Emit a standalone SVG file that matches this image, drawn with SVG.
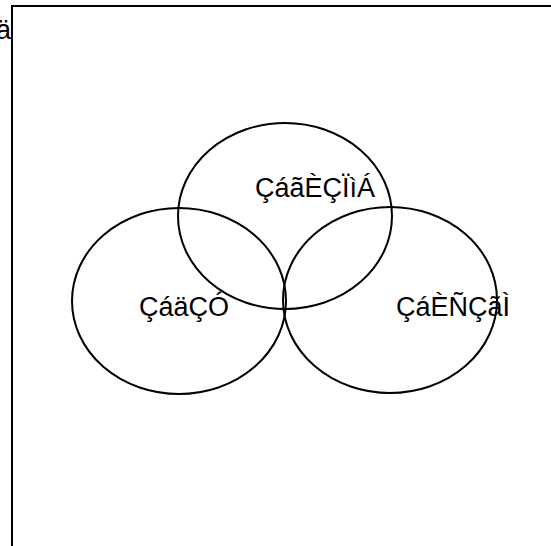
<svg xmlns="http://www.w3.org/2000/svg" width="551" height="546" viewBox="0 0 551 546">
<style>
.t{font-family:"Liberation Sans",Arial,sans-serif;font-size:27px;fill:#000}
.c{fill:none;stroke:#000;stroke-width:2}
</style>
<rect width="551" height="546" fill="#fff"/>
<g id="frame">
<rect x="12" y="6" width="620" height="620" fill="none" stroke="#000" stroke-width="2"/>
<text class="t" x="11" y="39" text-anchor="end">ä</text>
</g>
<g id="top">
<ellipse class="c" cx="285" cy="216" rx="107" ry="93"/>
<text class="t" x="255" y="197">ÇáãÈÇÏìÁ</text>
</g>
<g id="left">
<ellipse class="c" cx="179" cy="301" rx="107" ry="93"/>
<text class="t" x="139" y="316">ÇáäÇÓ</text>
</g>
<g id="right">
<ellipse class="c" cx="390" cy="300" rx="107" ry="93"/>
<text class="t" x="396" y="316">ÇáÈÑÇãÌ</text>
</g>
</svg>
